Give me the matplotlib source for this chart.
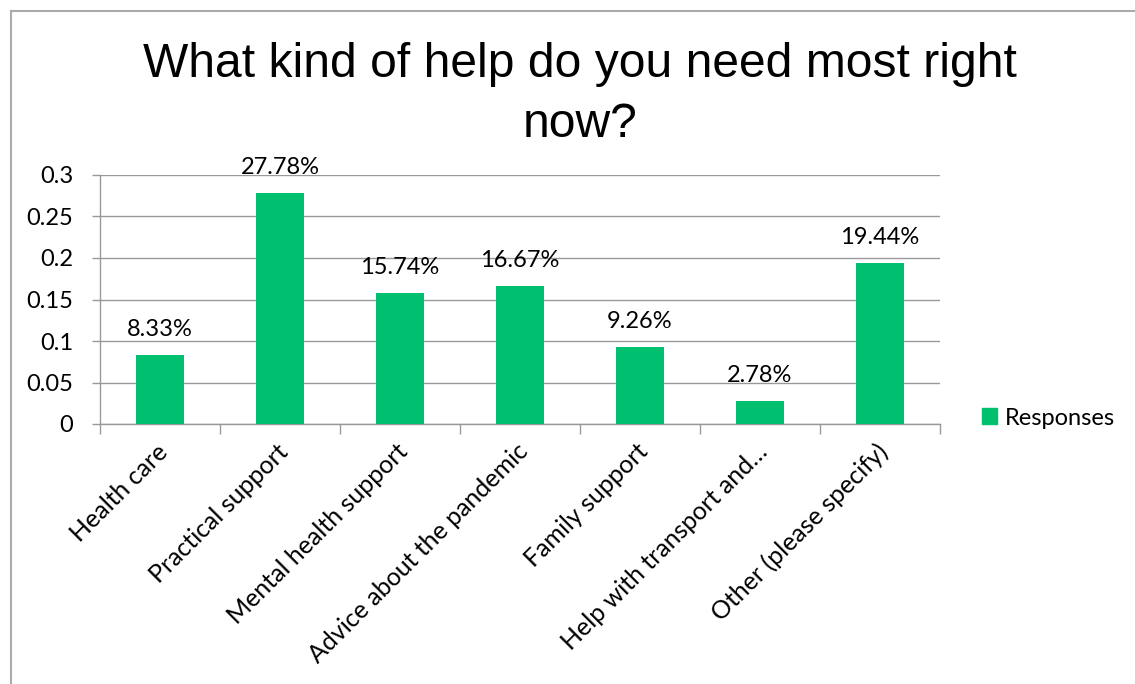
import matplotlib.pyplot as plt
from matplotlib.patches import Rectangle, Patch
import numpy as np

# survey answers and their share of responses
categories = ['Health care', 'Practical support', 'Mental health support',
              'Advice about the pandemic', 'Family support',
              'Help with transport and\u2026', 'Other (please specify)']
shares = [0.0833, 0.2778, 0.1574, 0.1667, 0.0926, 0.0278, 0.1944]
yticks = [0, 0.05, 0.1, 0.15, 0.2, 0.25, 0.3]
ytick_labels = ['0', '0.05', '0.1', '0.15', '0.2', '0.25', '0.3']

green = '#00BF6F'
grid_col = '#999999'
label_font = 'Lato'
fs = 17

fig = plt.figure(figsize=(11.35, 6.84), dpi=100)
W, H = 1135, 684

# chart frame
fig.patches.append(Rectangle((11 / W, -0.1), 1.2, 1 - 11 / H + 0.1,
                             transform=fig.transFigure, fill=False,
                             edgecolor='#ABABAB', linewidth=1.5))

ax = fig.add_axes([100 / W, 1 - 424 / H, 840 / W, 249 / H])
x = np.arange(len(categories))
ax.bar(x, shares, width=0.4, color=green, zorder=3)

ax.set_xlim(-0.5, len(categories) - 0.5)
ax.set_ylim(0, 0.3)
ax.set_yticks(yticks)
ax.set_yticklabels(ytick_labels, fontfamily=label_font, fontsize=fs)
ax.yaxis.grid(True, color=grid_col, linewidth=1, zorder=0)
ax.tick_params(axis='y', length=5.8, color=grid_col, width=1, pad=13.5)

# category ticks sit on the boundaries, labels under the centres
ax.set_xticks(np.arange(len(categories) + 1) - 0.5)
ax.set_xticklabels([])
ax.tick_params(axis='x', length=7, color=grid_col, width=1)
for i, name in enumerate(categories):
    ax.annotate(name, xy=(i, 0), xycoords=('data', 'axes fraction'),
                xytext=(4, -24), textcoords='offset pixels',
                rotation=45, ha='right', va='center', rotation_mode='anchor',
                fontfamily=label_font, fontsize=18)

for s in ['top', 'right']:
    ax.spines[s].set_visible(False)
for s in ['left', 'bottom']:
    ax.spines[s].set_color(grid_col)
    ax.spines[s].set_linewidth(1)

# value labels above bars
for i, v in enumerate(shares):
    ax.annotate(f'{v * 100:.2f}%', xy=(i, v), xytext=(0, 19),
                textcoords='offset pixels', ha='center', va='baseline',
                fontfamily=label_font, fontsize=fs)

# title, wrapped onto two lines
fig.text(580 / W, 1 - 77 / H, 'What kind of help do you need most right',
         ha='center', va='baseline', fontfamily='Liberation Sans', fontsize=34.6)
fig.text(580 / W, 1 - 137 / H, 'now?',
         ha='center', va='baseline', fontfamily='Liberation Sans', fontsize=34.6)

fig.legend(handles=[Patch(color=green, label='Responses')],
           loc='center left', bbox_to_anchor=(982 / W, 1 - 418 / H),
           frameon=False, prop={'family': label_font, 'size': fs},
           handlelength=0.64, handleheight=0.64, handletextpad=0.34,
           borderpad=0, borderaxespad=0)

fig.savefig('out.png', dpi=100)
